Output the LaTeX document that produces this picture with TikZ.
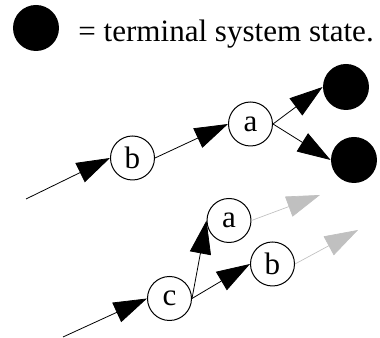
\documentclass[tikz,border=0pt]{standalone}
\usepackage{fontspec}
\setmainfont{Liberation Serif}
\usetikzlibrary{arrows.meta}
\definecolor{lightgrey}{RGB}{192,192,192}
\tikzset{
	state/.style={circle,draw,line width=0.75pt,minimum size=33pt,inner sep=0pt},
	terminal/.style={circle,fill,minimum size=34.5pt,inner sep=0pt},
	faded/.style={lightgrey,line width=0.5pt}
}
\begin{document}
\begin{tikzpicture}[x=0.75pt,y=-0.75pt,>={Triangle[length=25pt,width=16pt]},line join=round,font=\fontsize{23.3}{28}\selectfont,line width=0.6pt]
				\useasboundingbox (0,0) rectangle (380,338);
				\node[terminal] (key) at (36,28) {};
				\node[anchor=base west,inner sep=0pt] (keytext) at (78,42) {= terminal system state.};
				\coordinate (in1) at (26,199);
				\node[state] (b1) at (132.5,158) {b};
				\node[state] (a1) at (250.5,124) {a};
				\node[terminal] (t1) at (346,87) {};
				\node[terminal] (t2) at (354,160) {};
				\draw[->] (in1) -- (b1.west);
				\draw[->] (b1.east) -- (a1.west);
				\draw[->] (a1.east) -- (t1.west);
				\draw[->] (a1.east) -- (t2.west);
				\coordinate (in2) at (63,337);
				\node[state] (c2) at (169.5,298.5) {c};
				\node[state] (a2) at (229,220.5) {a};
				\node[state] (b2) at (272.5,264) {b};
				\coordinate (g1) at (320,195);
				\coordinate (g2) at (358,230);
				\draw[->] (in2) -- (c2.west);
				\draw[->] (c2.east) -- (a2.west);
				\draw[->] (c2.east) -- (b2.west);
				\draw[->,faded] (a2.east) -- (g1);
				\draw[->,faded] (b2.east) -- (g2);
		\end{tikzpicture}
\end{document}
